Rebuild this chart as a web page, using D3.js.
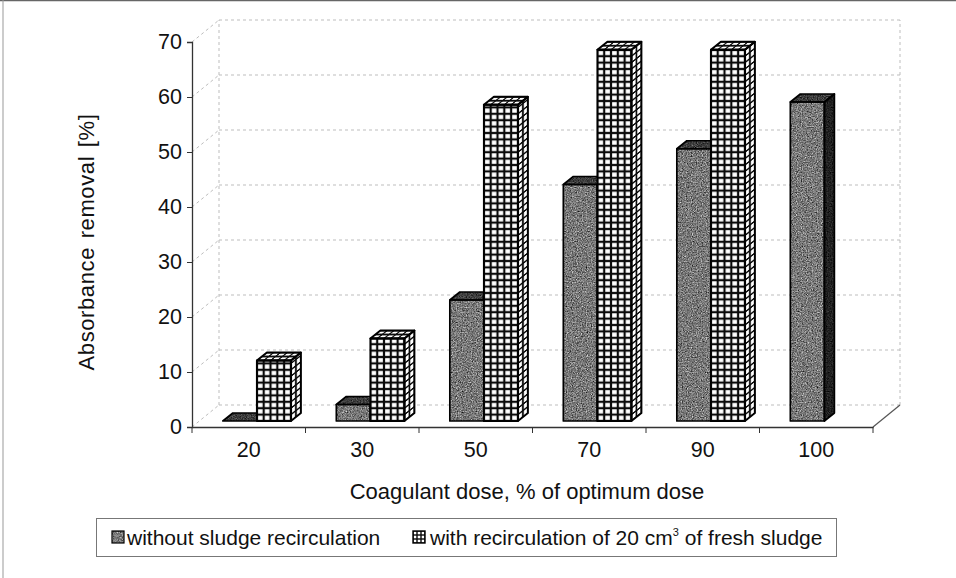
<!DOCTYPE html>
<html>
<head>
<meta charset="utf-8">
<script src="https://cdn.jsdelivr.net/npm/d3@7/dist/d3.min.js"></script>
<style>
  html, body { margin: 0; padding: 0; background: #fff; }
  svg { display: block; font-family: "Liberation Sans", Arial, sans-serif; }
</style>
</head>
<body>
<svg id="chart" width="956" height="578"></svg>
<script>
// Coagulant dose categories and absorbance removal per series
const categories = ["20", "30", "50", "70", "90", "100"];
const withoutRecirculation = [0, 3, 22, 43, 49.5, 58];
const withRecirculation = [11, 15, 57.5, 67.5, 67.5, null];
const yTickValues = [0, 10, 20, 30, 40, 50, 60, 70];
const seriesNames = ["without sludge recirculation", "with recirculation of 20 cm"];

const svg = d3.select("#chart");
const defs = svg.append("defs");

// Oblique 3D projection: full floor depth and the slab where the columns stand
const DEPTH = { dx: 27, dy: -22 };
const FRONT = { dx: 7, dy: -6 };
const BAR_DEPTH = { dx: 10, dy: -8 };

const x = d3.scaleBand().domain(categories).range([192, 873]);
const y = d3.scaleLinear().domain([0, 70]).range([427, 42]);
const inner = d3.scaleBand().domain([0, 1]).range([0.21, 0.81]); // fraction of a band

// Grainy fills for the solid series
function grainFilter(id, base, contrast, seed) {
  const k = contrast / 3, b = base - contrast / 2;
  const f = defs.append("filter").attr("id", id)
    .attr("x", 0).attr("y", 0).attr("width", 1).attr("height", 1)
    .attr("color-interpolation-filters", "sRGB");
  f.append("feTurbulence").attr("type", "fractalNoise")
    .attr("baseFrequency", 0.8).attr("numOctaves", 2).attr("seed", seed).attr("result", "noise");
  f.append("feColorMatrix").attr("in", "noise").attr("type", "matrix")
    .attr("values", `${k} ${k} ${k} 0 ${b} ${k} ${k} ${k} 0 ${b} ${k} ${k} ${k} 0 ${b} 0 0 0 0 1`)
    .attr("result", "gray");
  f.append("feComposite").attr("in", "gray").attr("in2", "SourceGraphic").attr("operator", "in");
}
grainFilter("grain-front", 0.47, 1.7, 7);
grainFilter("grain-top", 0.24, 1.0, 11);
grainFilter("grain-side", 0.13, 0.6, 3);

// Square-grid fill for the recirculation series
let gridId = 0;
function gridPattern(px, py, cw, ch, line) {
  const id = "grid" + (gridId++);
  const half = line / 2;
  const p = defs.append("pattern").attr("id", id)
    .attr("patternUnits", "userSpaceOnUse")
    .attr("x", px).attr("y", py).attr("width", cw).attr("height", ch);
  p.append("rect").attr("width", cw).attr("height", ch).attr("fill", "#0a0a0a");
  p.append("rect").attr("x", half).attr("y", half)
    .attr("width", Math.max(cw - line, 0.5)).attr("height", Math.max(ch - line, 0.5)).attr("fill", "#fff");
  return `url(#${id})`;
}

// Outer frame
svg.append("line").attr("x1", 0).attr("x2", 956).attr("y1", 0.5).attr("y2", 0.5)
  .attr("stroke", "#666").attr("stroke-width", 1.5);
svg.append("line").attr("x1", 3).attr("x2", 3).attr("y1", 0).attr("y2", 578)
  .attr("stroke", "#999").attr("stroke-width", 1);

// Walls and gridlines
const x0 = x.range()[0], x1 = x.range()[1];
const walls = svg.append("g").attr("fill", "none").attr("stroke", "#bdbdbd")
  .attr("stroke-width", 1).attr("stroke-dasharray", "3,3");
yTickValues.forEach(v => {
  walls.append("line")
    .attr("x1", x0 + DEPTH.dx).attr("x2", x1 + DEPTH.dx)
    .attr("y1", y(v) + DEPTH.dy).attr("y2", y(v) + DEPTH.dy);
  walls.append("line")
    .attr("x1", x0).attr("x2", x0 + DEPTH.dx)
    .attr("y1", y(v)).attr("y2", y(v) + DEPTH.dy);
});
[x0 + DEPTH.dx, x1 + DEPTH.dx].forEach(xx => {
  walls.append("line").attr("x1", xx).attr("x2", xx)
    .attr("y1", y(0) + DEPTH.dy).attr("y2", y(70) + DEPTH.dy);
});
svg.append("line")
  .attr("x1", x1).attr("y1", y(0)).attr("x2", x1 + DEPTH.dx).attr("y2", y(0) + DEPTH.dy)
  .attr("stroke", "#555").attr("stroke-width", 1.2);

const FONT = "Liberation Sans, Arial, sans-serif";

// Axes
const yAxis = svg.append("g").attr("transform", `translate(${x0},0)`)
  .call(d3.axisLeft(y).tickValues(yTickValues).tickSize(5).tickPadding(5).tickFormat(d3.format("d")));
yAxis.select(".domain").attr("stroke", "#333").attr("stroke-width", 1.3);
yAxis.selectAll(".tick line").attr("stroke", "#333");
yAxis.selectAll("text").attr("font-size", 21.5).attr("fill", "#111").attr("font-family", FONT);

const xAxis = svg.append("g").attr("transform", `translate(0,${y(0)})`)
  .call(d3.axisBottom(x).tickSize(0).tickPadding(15));
xAxis.select(".domain").attr("stroke", "#333").attr("stroke-width", 1.3);
xAxis.selectAll("text").attr("font-size", 21.5).attr("fill", "#111").attr("font-family", FONT);
xAxis.selectAll(".boundary").data(categories.concat(["end"])).enter().append("line")
  .attr("x1", (d, i) => x0 + i * x.bandwidth()).attr("x2", (d, i) => x0 + i * x.bandwidth())
  .attr("y1", 0).attr("y2", 6).attr("stroke", "#333");

// Column geometry
function barBox(ci, si, v) {
  const band = x.bandwidth();
  const xl = x(categories[ci]) + inner(si) * band + FRONT.dx;
  const xr = xl + inner.bandwidth() * band;
  const yb = y(0) + FRONT.dy;
  const yt = y(v) + FRONT.dy;
  return { xl, xr, yt, yb };
}
function topPath(b) {
  return `M${b.xl},${b.yt}L${b.xr},${b.yt}L${b.xr + BAR_DEPTH.dx},${b.yt + BAR_DEPTH.dy}L${b.xl + BAR_DEPTH.dx},${b.yt + BAR_DEPTH.dy}Z`;
}
function sidePath(b) {
  return `M${b.xr},${b.yt}L${b.xr + BAR_DEPTH.dx},${b.yt + BAR_DEPTH.dy}L${b.xr + BAR_DEPTH.dx},${b.yb + BAR_DEPTH.dy}L${b.xr},${b.yb}Z`;
}
function frontPath(b) {
  return `M${b.xl},${b.yb}L${b.xl},${b.yt}L${b.xr},${b.yt}L${b.xr},${b.yb}Z`;
}

const bars = svg.append("g");

function drawSolid(ci, v) {
  const b = barBox(ci, 0, v);
  const g = bars.append("g");
  if (b.yb - b.yt > 0.5) {
    g.append("path").attr("d", sidePath(b)).attr("fill", "#222").attr("filter", "url(#grain-side)");
    g.append("path").attr("d", frontPath(b)).attr("fill", "#777").attr("filter", "url(#grain-front)");
  }
  g.append("path").attr("d", topPath(b)).attr("fill", "#333").attr("filter", "url(#grain-top)");
  const o = g.append("g").attr("fill", "none").attr("stroke", "#000")
    .attr("stroke-width", 1.7).attr("stroke-linejoin", "round");
  if (b.yb - b.yt > 0.5) {
    o.append("path").attr("d", sidePath(b));
    o.append("path").attr("d", frontPath(b));
  }
  o.append("path").attr("d", topPath(b));
}

function drawGrid(ci, v) {
  const b = barBox(ci, 1, v);
  const w = b.xr - b.xl;
  const cw = w / 5, ch = 6.4;
  const g = bars.append("g");
  // front face
  g.append("rect").attr("x", b.xl).attr("y", b.yt).attr("width", w).attr("height", b.yb - b.yt)
    .attr("fill", gridPattern(b.xl, b.yb, cw, ch, 2.2));
  // side face, sheared upward with depth
  const slope = BAR_DEPTH.dy / BAR_DEPTH.dx;
  g.append("g").attr("transform", `translate(${b.xr},0) matrix(1,${slope},0,1,0,0)`)
    .append("rect").attr("x", 0).attr("y", b.yt).attr("width", BAR_DEPTH.dx).attr("height", b.yb - b.yt)
    .attr("fill", gridPattern(0, b.yb, BAR_DEPTH.dx / 2, ch, 1.8));
  // top face, sheared sideways with depth
  const shear = BAR_DEPTH.dx / BAR_DEPTH.dy;
  g.append("g").attr("transform", `translate(0,${b.yt}) matrix(1,0,${shear},1,0,0)`)
    .append("rect").attr("x", b.xl).attr("y", BAR_DEPTH.dy).attr("width", w).attr("height", -BAR_DEPTH.dy)
    .attr("fill", gridPattern(b.xl, BAR_DEPTH.dy, cw, -BAR_DEPTH.dy / 2, 1.8));
  const o = g.append("g").attr("fill", "none").attr("stroke", "#000")
    .attr("stroke-width", 1.9).attr("stroke-linejoin", "round");
  o.append("path").attr("d", sidePath(b));
  o.append("path").attr("d", frontPath(b));
  o.append("path").attr("d", topPath(b));
}

categories.forEach((c, i) => {
  if (withoutRecirculation[i] != null) drawSolid(i, withoutRecirculation[i]);
  if (withRecirculation[i] != null) drawGrid(i, withRecirculation[i]);
});

// Axis titles
svg.append("text").attr("x", 527).attr("y", 499)
  .attr("text-anchor", "middle").attr("font-size", 22).attr("fill", "#111")
  .text("Coagulant dose, % of optimum dose");
svg.append("text").attr("transform", "translate(94,242) rotate(-90)")
  .attr("text-anchor", "middle").attr("font-size", 22).attr("fill", "#111")
  .attr("word-spacing", 2).attr("letter-spacing", 0.6)
  .text("Absorbance removal [%]");

// Legend
const legend = svg.append("g");
legend.append("rect").attr("x", 96.5).attr("y", 518.5).attr("width", 740).attr("height", 38)
  .attr("fill", "#fff").attr("stroke", "#777").attr("stroke-width", 1);
legend.append("rect").attr("x", 112).attr("y", 531).attr("width", 12).attr("height", 12)
  .attr("fill", "#666").attr("filter", "url(#grain-front)");
legend.append("rect").attr("x", 112).attr("y", 531).attr("width", 12).attr("height", 12)
  .attr("fill", "none").attr("stroke", "#000").attr("stroke-width", 1.2);
legend.append("text").attr("x", 127).attr("y", 545).attr("font-size", 21).attr("fill", "#111")
  .text(seriesNames[0]);
legend.append("rect").attr("x", 413).attr("y", 531).attr("width", 12).attr("height", 12)
  .attr("fill", gridPattern(413, 531, 4, 4, 1.4));
legend.append("rect").attr("x", 413).attr("y", 531).attr("width", 12).attr("height", 12)
  .attr("fill", "none").attr("stroke", "#000").attr("stroke-width", 1.4);
const t2 = legend.append("text").attr("x", 430).attr("y", 545).attr("font-size", 21).attr("fill", "#111");
t2.append("tspan").text("with recirculation of 20 cm");
t2.append("tspan").attr("font-size", 11).attr("dy", -9).text("3");
t2.append("tspan").attr("dy", 9).text(" of fresh sludge");
</script>
</body>
</html>
